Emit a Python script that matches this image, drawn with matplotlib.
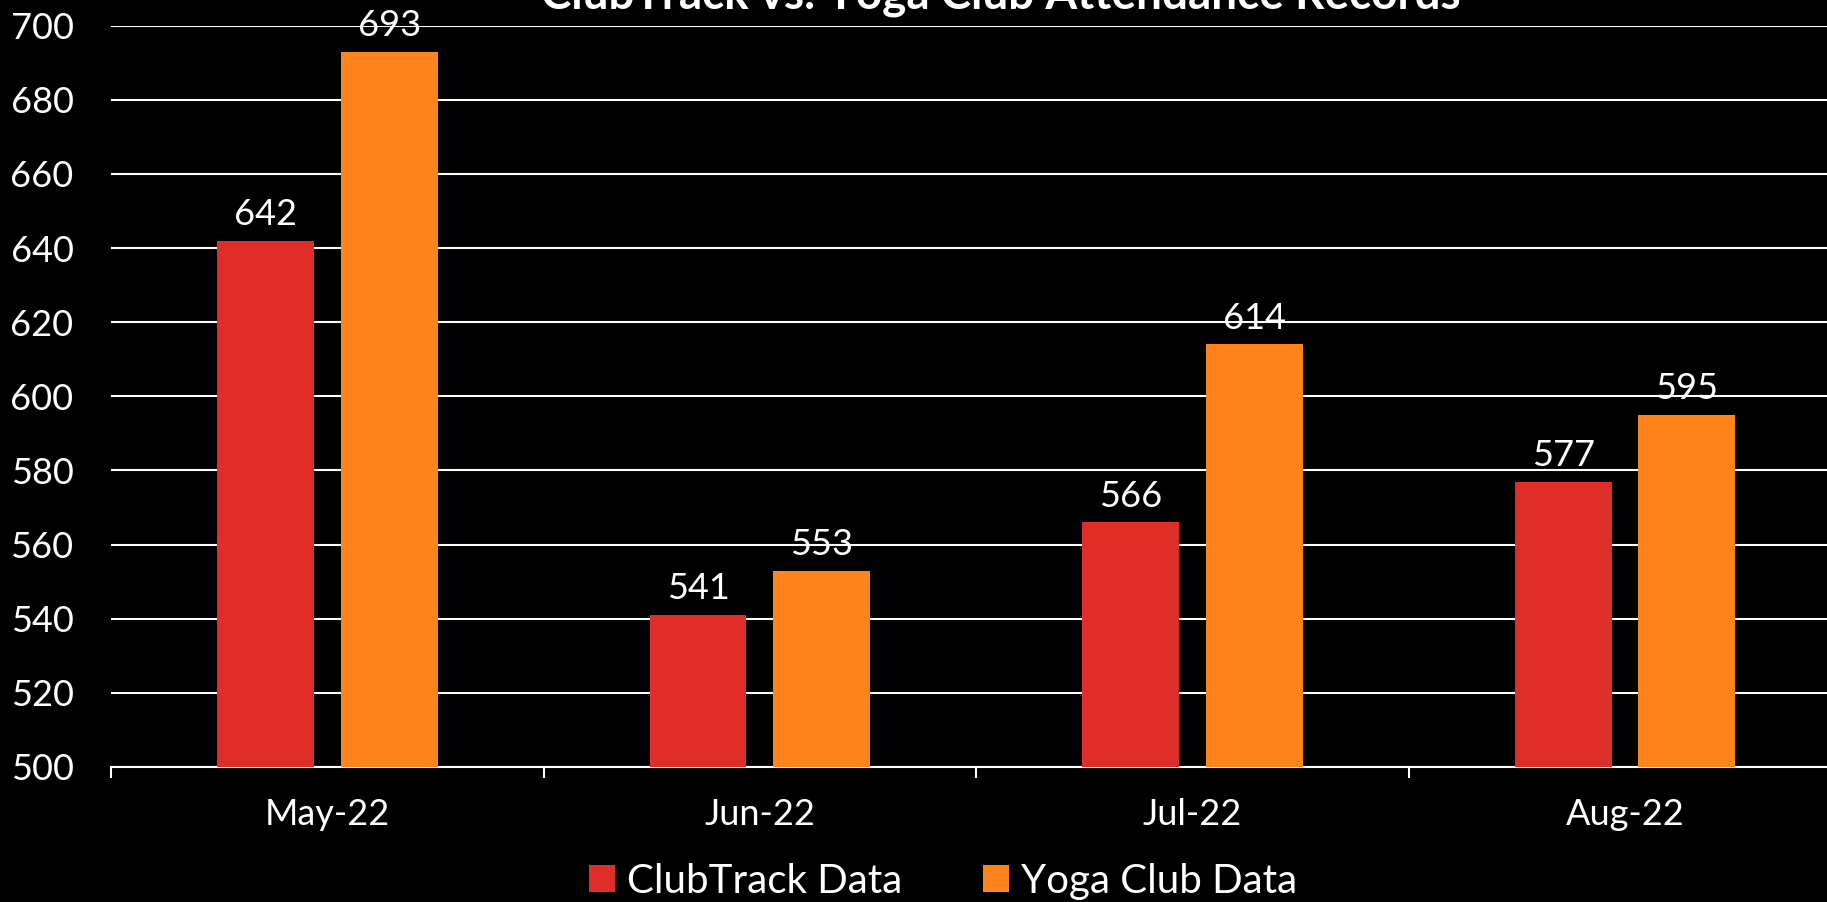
import numpy as np
import matplotlib.pyplot as plt

months = ['May-22', 'Jun-22', 'Jul-22', 'Aug-22']
clubtrack = [642, 541, 566, 577]
yoga_club = [693, 553, 614, 595]
series_names = ['ClubTrack Data', 'Yoga Club Data']
title = 'ClubTrack vs. Yoga Club Attendance Records'

red = '#DF2E28'
orange = '#FF841C'

plt.rcParams['font.family'] = ['Lato', 'DejaVu Sans']

fig = plt.figure(figsize=(18.27, 9.02), dpi=100, facecolor='black')
ax = fig.add_axes([0.0608, 0.1497, 0.947, 0.8219])
ax.set_facecolor('black')

x = np.arange(len(months))
w = 0.224
off = 0.143
b1 = ax.bar(x - off, clubtrack, w, color=red, label=series_names[0], zorder=3)
b2 = ax.bar(x + off, yoga_club, w, color=orange, label=series_names[1], zorder=3)
ax.bar_label(b1, padding=7, color='white', fontsize=26)
ax.bar_label(b2, padding=7, color='white', fontsize=26)

ax.set_ylim(500, 700)
ax.set_yticks(np.arange(500, 701, 20))
ax.set_xlim(-0.5, len(months) - 0.5)
ax.set_xticks(x)
ax.set_xticklabels(months)
ax.set_xticks(np.arange(-0.5, len(months) - 0.5, 1), minor=True)
ax.tick_params(axis='x', which='major', length=0, pad=22, labelcolor='white', labelsize=26)
ax.tick_params(axis='x', which='minor', length=8, width=1.5, color='white')
ax.tick_params(axis='y', length=0, pad=27, labelcolor='white', labelsize=26)

ax.grid(axis='y', color='white', linewidth=1.5, zorder=0)
for s in ['top', 'right', 'left']:
    ax.spines[s].set_visible(False)
ax.spines['bottom'].set_color('white')
ax.spines['bottom'].set_linewidth(1.5)

fig.text(0.548, 0.991, title, color='white', fontsize=33, fontweight='bold',
         ha='center', va='baseline')

leg = fig.legend(loc='lower center', bbox_to_anchor=(0.516, -0.038), ncol=2, frameon=False,
                 fontsize=29, labelcolor='white', handlelength=0.65, handleheight=0.65,
                 handletextpad=0.3, columnspacing=2.0)

fig.savefig('out.png', dpi=100, facecolor='black')
